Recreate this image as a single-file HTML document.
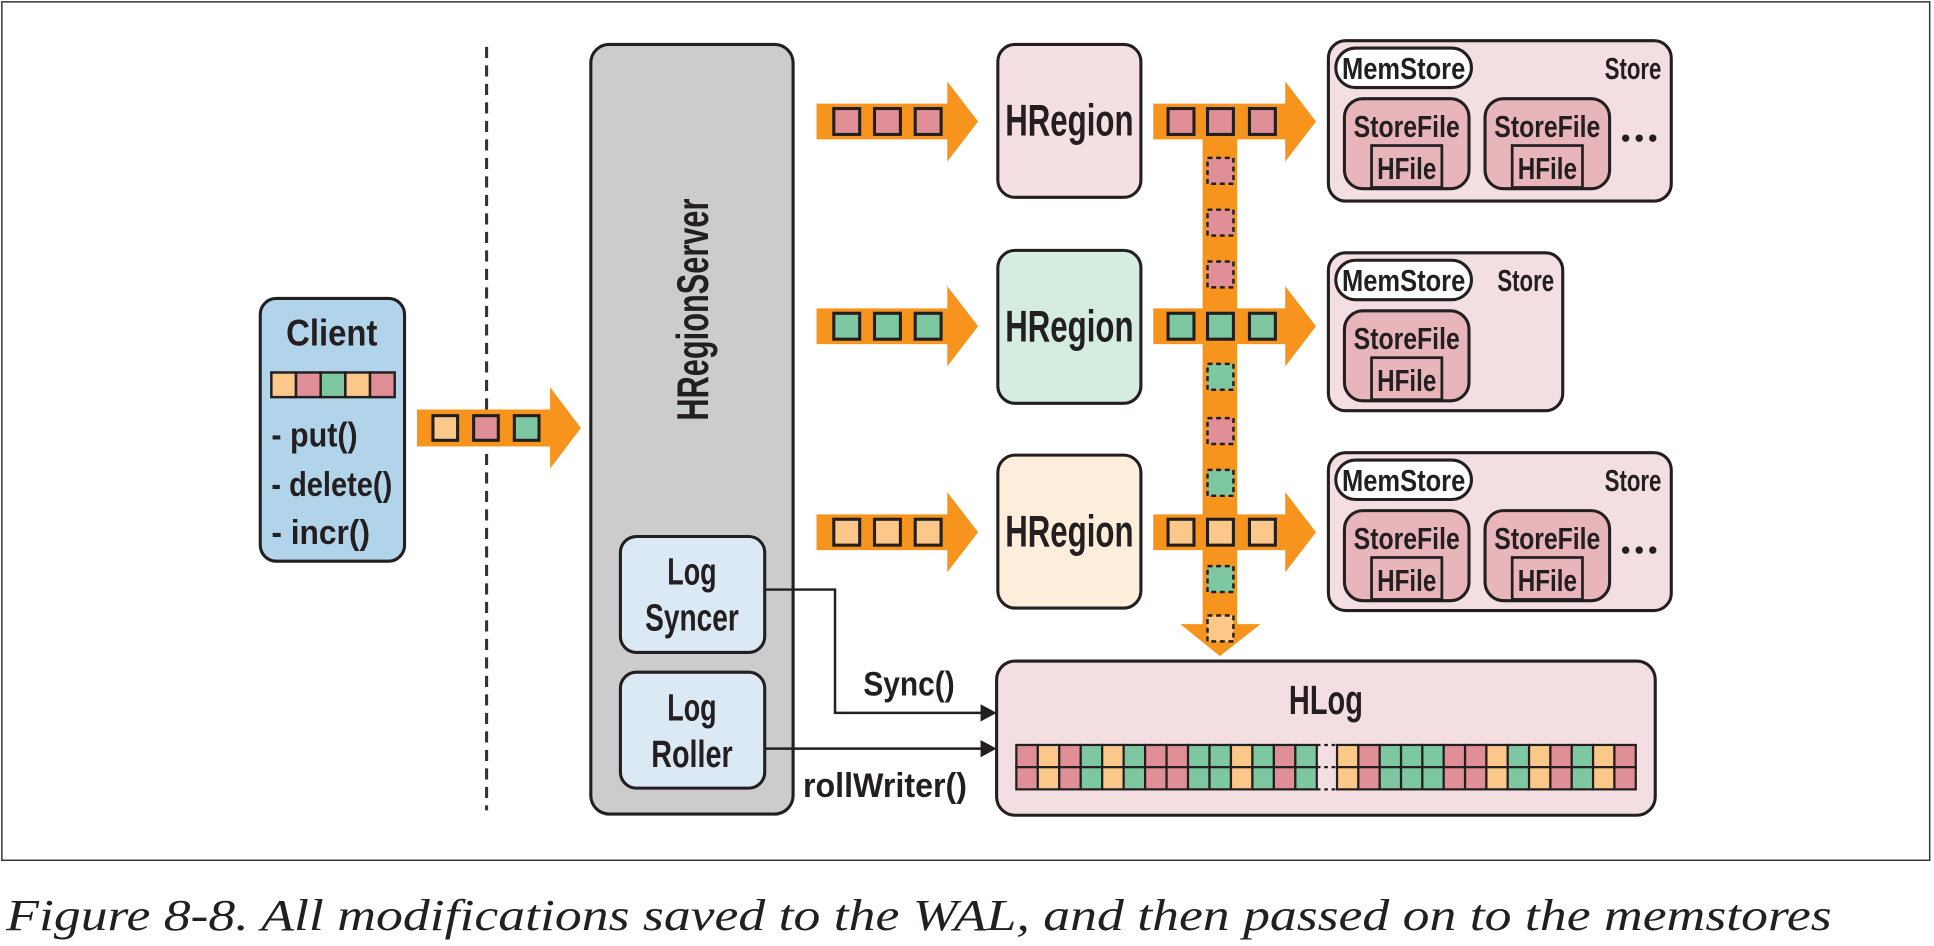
<!DOCTYPE html>
<html><head><meta charset="utf-8"><style>
html,body{margin:0;padding:0;background:#fff;}
svg{display:block;}
text{font-family:"Liberation Sans Narrow","Liberation Sans",sans-serif;fill:#231f20;font-weight:bold;}
text.cap{font-family:"Liberation Serif",serif;font-weight:normal;font-style:italic;}
</style></head><body>
<svg width="1934" height="946" viewBox="0 0 1568 767" preserveAspectRatio="none" xmlns="http://www.w3.org/2000/svg">
<rect x="1.5" y="1.5" width="1563" height="696" fill="#fff" stroke="#333" stroke-width="1.2"/>
<text class="cap" x="5" y="754" font-size="36" textLength="1480" lengthAdjust="spacingAndGlyphs">Figure 8-8. All modifications saved to the WAL, and then passed on to the memstores</text>

<line x1="394.5" y1="38" x2="394.5" y2="657" stroke="#333" stroke-width="2.5" stroke-dasharray="9,6"/>

<rect x="211" y="242" width="117" height="213" rx="13" fill="#b2d4eb" stroke="#231f20" stroke-width="2.5"/>
<text x="269" y="280" font-size="30" text-anchor="middle" textLength="74" lengthAdjust="spacingAndGlyphs">Client</text>
<g stroke="#231f20" stroke-width="2">
<rect x="220" y="302" width="20" height="20" fill="#fcc88a"/>
<rect x="240" y="302" width="20" height="20" fill="#df8f95"/>
<rect x="260" y="302" width="20" height="20" fill="#7dc8a0"/>
<rect x="280" y="302" width="20" height="20" fill="#fcc88a"/>
<rect x="300" y="302" width="20" height="20" fill="#df8f95"/>
</g>
<text x="220" y="362" font-size="28" textLength="70" lengthAdjust="spacingAndGlyphs">- put()</text>
<text x="220" y="402" font-size="28" textLength="98" lengthAdjust="spacingAndGlyphs">- delete()</text>
<text x="220" y="441" font-size="28" textLength="80" lengthAdjust="spacingAndGlyphs">- incr()</text>

<polygon points="338,332 446,332 446,314 471,347 446,380 446,362 338,362" fill="#f7941d"/>
<g stroke="#231f20" stroke-width="2.5">
<rect x="351" y="337" width="20" height="20" fill="#fcc88a"/>
<rect x="384" y="337" width="20" height="20" fill="#df8f95"/>
<rect x="417" y="337" width="20" height="20" fill="#7dc8a0"/>
</g>

<rect x="479" y="36" width="164" height="624" rx="15" fill="#cccccc" stroke="#231f20" stroke-width="2.5"/>
<text transform="translate(574,251) rotate(-90)" font-size="36" text-anchor="middle" textLength="180" lengthAdjust="spacingAndGlyphs">HRegionServer</text>
<rect x="503" y="435" width="117" height="94" rx="13" fill="#dbe9f4" stroke="#231f20" stroke-width="2.5"/>
<text x="561" y="474" font-size="31" text-anchor="middle" textLength="40" lengthAdjust="spacingAndGlyphs">Log</text>
<text x="561" y="511" font-size="31" text-anchor="middle" textLength="76" lengthAdjust="spacingAndGlyphs">Syncer</text>
<rect x="503" y="545" width="117" height="94" rx="13" fill="#dbe9f4" stroke="#231f20" stroke-width="2.5"/>
<text x="561" y="584" font-size="31" text-anchor="middle" textLength="40" lengthAdjust="spacingAndGlyphs">Log</text>
<text x="561" y="622" font-size="31" text-anchor="middle" textLength="66" lengthAdjust="spacingAndGlyphs">Roller</text>

<polyline points="620,478 677,478 677,578 796,578" fill="none" stroke="#231f20" stroke-width="2"/>
<polygon points="795,571 808,578 795,585" fill="#231f20"/>
<line x1="620" y1="607" x2="796" y2="607" stroke="#231f20" stroke-width="2"/>
<polygon points="795,600 808,607 795,614" fill="#231f20"/>
<text x="700" y="564" font-size="28" textLength="74" lengthAdjust="spacingAndGlyphs">Sync()</text>
<text x="651" y="646" font-size="28" textLength="133" lengthAdjust="spacingAndGlyphs">rollWriter()</text>

<g fill="#f7941d">
<polygon points="662,84 768,84 768,66 793,98.5 768,131 768,113 662,113"/>
<polygon points="662,250 768,250 768,232 793,264.5 768,297 768,279 662,279"/>
<polygon points="662,417 768,417 768,399 793,431.5 768,464 768,446 662,446"/>
</g>
<g stroke="#231f20" stroke-width="2.5">
<rect x="676" y="88" width="21" height="21" fill="#df8f95"/><rect x="709" y="88" width="21" height="21" fill="#df8f95"/><rect x="742" y="88" width="21" height="21" fill="#df8f95"/>
<rect x="676" y="254" width="21" height="21" fill="#7dc8a0"/><rect x="709" y="254" width="21" height="21" fill="#7dc8a0"/><rect x="742" y="254" width="21" height="21" fill="#7dc8a0"/>
<rect x="676" y="421" width="21" height="21" fill="#fcc88a"/><rect x="709" y="421" width="21" height="21" fill="#fcc88a"/><rect x="742" y="421" width="21" height="21" fill="#fcc88a"/>
</g>

<rect x="809" y="36" width="116" height="124" rx="14" fill="#f4dfe1" stroke="#231f20" stroke-width="2.5"/>
<text x="867" y="110" font-size="36" text-anchor="middle" textLength="104" lengthAdjust="spacingAndGlyphs">HRegion</text>
<rect x="809" y="203" width="116" height="124" rx="14" fill="#d5ece0" stroke="#231f20" stroke-width="2.5"/>
<text x="867" y="277" font-size="36" text-anchor="middle" textLength="104" lengthAdjust="spacingAndGlyphs">HRegion</text>
<rect x="809" y="369" width="116" height="124" rx="14" fill="#fdeedb" stroke="#231f20" stroke-width="2.5"/>
<text x="867" y="443" font-size="36" text-anchor="middle" textLength="104" lengthAdjust="spacingAndGlyphs">HRegion</text>

<g fill="#f7941d">
<polygon points="935,84 1042,84 1042,66 1067,98.5 1042,131 1042,113 935,113"/>
<polygon points="935,250 1042,250 1042,232 1067,264.5 1042,297 1042,279 935,279"/>
<polygon points="935,417 1042,417 1042,399 1067,431.5 1042,464 1042,446 935,446"/>
<polygon points="975,98 1003,98 1003,506 1022,506 989,532 957,506 975,506"/>
</g>
<g stroke="#231f20" stroke-width="2.5">
<rect x="947" y="88" width="21" height="21" fill="#df8f95"/><rect x="979" y="88" width="21" height="21" fill="#df8f95"/><rect x="1013" y="88" width="21" height="21" fill="#df8f95"/>
<rect x="947" y="254" width="21" height="21" fill="#7dc8a0"/><rect x="979" y="254" width="21" height="21" fill="#7dc8a0"/><rect x="1013" y="254" width="21" height="21" fill="#7dc8a0"/>
<rect x="947" y="421" width="21" height="21" fill="#fcc88a"/><rect x="979" y="421" width="21" height="21" fill="#fcc88a"/><rect x="1013" y="421" width="21" height="21" fill="#fcc88a"/>
</g>
<g stroke="#231f20" stroke-width="2" stroke-dasharray="4,3">
<rect x="979" y="128" width="21" height="21" fill="#df8f95"/>
<rect x="979" y="170" width="21" height="21" fill="#df8f95"/>
<rect x="979" y="212" width="21" height="21" fill="#df8f95"/>
<rect x="979" y="295" width="21" height="21" fill="#7dc8a0"/>
<rect x="979" y="339" width="21" height="21" fill="#df8f95"/>
<rect x="979" y="381" width="21" height="21" fill="#7dc8a0"/>
<rect x="979" y="459" width="21" height="21" fill="#7dc8a0"/>
<rect x="979" y="499" width="21" height="21" fill="#fcc88a"/>
</g>

<g transform="translate(1077,33)">
<rect x="0" y="0" width="278" height="130" rx="14" fill="#f3dfe1" stroke="#231f20" stroke-width="2.5"/>
<rect x="6" y="6" width="110" height="32" rx="16" fill="#fff" stroke="#231f20" stroke-width="2.5"/>
<text x="61" y="31" font-size="25" text-anchor="middle" textLength="100" lengthAdjust="spacingAndGlyphs">MemStore</text>
<text x="270" y="31" font-size="25" text-anchor="end" textLength="46" lengthAdjust="spacingAndGlyphs">Store</text>
<rect x="13" y="47" width="101" height="73" rx="15" fill="#e8b6ba" stroke="#231f20" stroke-width="2.5"/>
<text x="63.5" y="78" font-size="25" text-anchor="middle" textLength="86" lengthAdjust="spacingAndGlyphs">StoreFile</text>
<rect x="35" y="85" width="57" height="34" fill="#e8b6ba" stroke="#231f20" stroke-width="2.2"/>
<text x="63.5" y="112" font-size="25" text-anchor="middle" textLength="48" lengthAdjust="spacingAndGlyphs">HFile</text>
<rect x="127" y="47" width="101" height="73" rx="15" fill="#e8b6ba" stroke="#231f20" stroke-width="2.5"/>
<text x="177.5" y="78" font-size="25" text-anchor="middle" textLength="86" lengthAdjust="spacingAndGlyphs">StoreFile</text>
<rect x="149" y="85" width="57" height="34" fill="#e8b6ba" stroke="#231f20" stroke-width="2.2"/>
<text x="177.5" y="112" font-size="25" text-anchor="middle" textLength="48" lengthAdjust="spacingAndGlyphs">HFile</text>
<circle cx="241" cy="79" r="3" fill="#231f20"/><circle cx="252" cy="79" r="3" fill="#231f20"/><circle cx="263" cy="79" r="3" fill="#231f20"/>
</g>
<g transform="translate(1077,205)">
<rect x="0" y="0" width="190" height="128" rx="14" fill="#f3dfe1" stroke="#231f20" stroke-width="2.5"/>
<rect x="6" y="6" width="110" height="32" rx="16" fill="#fff" stroke="#231f20" stroke-width="2.5"/>
<text x="61" y="31" font-size="25" text-anchor="middle" textLength="100" lengthAdjust="spacingAndGlyphs">MemStore</text>
<text x="183" y="31" font-size="25" text-anchor="end" textLength="46" lengthAdjust="spacingAndGlyphs">Store</text>
<rect x="13" y="47" width="101" height="73" rx="15" fill="#e8b6ba" stroke="#231f20" stroke-width="2.5"/>
<text x="63.5" y="78" font-size="25" text-anchor="middle" textLength="86" lengthAdjust="spacingAndGlyphs">StoreFile</text>
<rect x="35" y="85" width="57" height="34" fill="#e8b6ba" stroke="#231f20" stroke-width="2.2"/>
<text x="63.5" y="112" font-size="25" text-anchor="middle" textLength="48" lengthAdjust="spacingAndGlyphs">HFile</text>
</g>
<g transform="translate(1077,367)">
<rect x="0" y="0" width="278" height="128" rx="14" fill="#f3dfe1" stroke="#231f20" stroke-width="2.5"/>
<rect x="6" y="6" width="110" height="32" rx="16" fill="#fff" stroke="#231f20" stroke-width="2.5"/>
<text x="61" y="31" font-size="25" text-anchor="middle" textLength="100" lengthAdjust="spacingAndGlyphs">MemStore</text>
<text x="270" y="31" font-size="25" text-anchor="end" textLength="46" lengthAdjust="spacingAndGlyphs">Store</text>
<rect x="13" y="47" width="101" height="73" rx="15" fill="#e8b6ba" stroke="#231f20" stroke-width="2.5"/>
<text x="63.5" y="78" font-size="25" text-anchor="middle" textLength="86" lengthAdjust="spacingAndGlyphs">StoreFile</text>
<rect x="35" y="85" width="57" height="34" fill="#e8b6ba" stroke="#231f20" stroke-width="2.2"/>
<text x="63.5" y="112" font-size="25" text-anchor="middle" textLength="48" lengthAdjust="spacingAndGlyphs">HFile</text>
<rect x="127" y="47" width="101" height="73" rx="15" fill="#e8b6ba" stroke="#231f20" stroke-width="2.5"/>
<text x="177.5" y="78" font-size="25" text-anchor="middle" textLength="86" lengthAdjust="spacingAndGlyphs">StoreFile</text>
<rect x="149" y="85" width="57" height="34" fill="#e8b6ba" stroke="#231f20" stroke-width="2.2"/>
<text x="177.5" y="112" font-size="25" text-anchor="middle" textLength="48" lengthAdjust="spacingAndGlyphs">HFile</text>
<circle cx="241" cy="79" r="3" fill="#231f20"/><circle cx="252" cy="79" r="3" fill="#231f20"/><circle cx="263" cy="79" r="3" fill="#231f20"/>
</g>

<rect x="808" y="536" width="534" height="125" rx="15" fill="#f3dfe1" stroke="#231f20" stroke-width="2.5"/>
<text x="1075" y="579" font-size="33" text-anchor="middle" textLength="60" lengthAdjust="spacingAndGlyphs">HLog</text>
<g stroke="#231f20" stroke-width="1.8">
<rect x="824.0" y="604" width="17.4" height="18" fill="#df8f95"/><rect x="824.0" y="622" width="17.4" height="18" fill="#df8f95"/>
<rect x="841.4" y="604" width="17.4" height="18" fill="#fcc88a"/><rect x="841.4" y="622" width="17.4" height="18" fill="#fcc88a"/>
<rect x="858.8" y="604" width="17.4" height="18" fill="#df8f95"/><rect x="858.8" y="622" width="17.4" height="18" fill="#df8f95"/>
<rect x="876.2" y="604" width="17.4" height="18" fill="#7dc8a0"/><rect x="876.2" y="622" width="17.4" height="18" fill="#7dc8a0"/>
<rect x="893.6" y="604" width="17.4" height="18" fill="#fcc88a"/><rect x="893.6" y="622" width="17.4" height="18" fill="#fcc88a"/>
<rect x="911.0" y="604" width="17.4" height="18" fill="#7dc8a0"/><rect x="911.0" y="622" width="17.4" height="18" fill="#7dc8a0"/>
<rect x="928.4" y="604" width="17.4" height="18" fill="#df8f95"/><rect x="928.4" y="622" width="17.4" height="18" fill="#df8f95"/>
<rect x="945.8" y="604" width="17.4" height="18" fill="#df8f95"/><rect x="945.8" y="622" width="17.4" height="18" fill="#df8f95"/>
<rect x="963.2" y="604" width="17.4" height="18" fill="#7dc8a0"/><rect x="963.2" y="622" width="17.4" height="18" fill="#7dc8a0"/>
<rect x="980.6" y="604" width="17.4" height="18" fill="#7dc8a0"/><rect x="980.6" y="622" width="17.4" height="18" fill="#7dc8a0"/>
<rect x="998.0" y="604" width="17.4" height="18" fill="#fcc88a"/><rect x="998.0" y="622" width="17.4" height="18" fill="#fcc88a"/>
<rect x="1015.4" y="604" width="17.4" height="18" fill="#7dc8a0"/><rect x="1015.4" y="622" width="17.4" height="18" fill="#7dc8a0"/>
<rect x="1032.8" y="604" width="17.4" height="18" fill="#df8f95"/><rect x="1032.8" y="622" width="17.4" height="18" fill="#df8f95"/>
<rect x="1050.2" y="604" width="17.4" height="18" fill="#7dc8a0"/><rect x="1050.2" y="622" width="17.4" height="18" fill="#7dc8a0"/>
<rect x="1084.0" y="604" width="17.3" height="18" fill="#fcc88a"/><rect x="1084.0" y="622" width="17.3" height="18" fill="#fcc88a"/>
<rect x="1101.3" y="604" width="17.3" height="18" fill="#df8f95"/><rect x="1101.3" y="622" width="17.3" height="18" fill="#df8f95"/>
<rect x="1118.6" y="604" width="17.3" height="18" fill="#7dc8a0"/><rect x="1118.6" y="622" width="17.3" height="18" fill="#7dc8a0"/>
<rect x="1135.9" y="604" width="17.3" height="18" fill="#7dc8a0"/><rect x="1135.9" y="622" width="17.3" height="18" fill="#7dc8a0"/>
<rect x="1153.2" y="604" width="17.3" height="18" fill="#7dc8a0"/><rect x="1153.2" y="622" width="17.3" height="18" fill="#7dc8a0"/>
<rect x="1170.5" y="604" width="17.3" height="18" fill="#df8f95"/><rect x="1170.5" y="622" width="17.3" height="18" fill="#df8f95"/>
<rect x="1187.8" y="604" width="17.3" height="18" fill="#df8f95"/><rect x="1187.8" y="622" width="17.3" height="18" fill="#df8f95"/>
<rect x="1205.1" y="604" width="17.3" height="18" fill="#fcc88a"/><rect x="1205.1" y="622" width="17.3" height="18" fill="#fcc88a"/>
<rect x="1222.4" y="604" width="17.3" height="18" fill="#7dc8a0"/><rect x="1222.4" y="622" width="17.3" height="18" fill="#7dc8a0"/>
<rect x="1239.7" y="604" width="17.3" height="18" fill="#fcc88a"/><rect x="1239.7" y="622" width="17.3" height="18" fill="#fcc88a"/>
<rect x="1257.0" y="604" width="17.3" height="18" fill="#df8f95"/><rect x="1257.0" y="622" width="17.3" height="18" fill="#df8f95"/>
<rect x="1274.3" y="604" width="17.3" height="18" fill="#7dc8a0"/><rect x="1274.3" y="622" width="17.3" height="18" fill="#7dc8a0"/>
<rect x="1291.6" y="604" width="17.3" height="18" fill="#fcc88a"/><rect x="1291.6" y="622" width="17.3" height="18" fill="#fcc88a"/>
<rect x="1308.9" y="604" width="17.3" height="18" fill="#df8f95"/><rect x="1308.9" y="622" width="17.3" height="18" fill="#df8f95"/>
</g>
<g stroke="#231f20" stroke-width="1.8" stroke-dasharray="3,3">
<line x1="1067.6" y1="604" x2="1084" y2="604"/><line x1="1067.6" y1="622" x2="1084" y2="622"/><line x1="1067.6" y1="640" x2="1084" y2="640"/>
</g>
</svg>
</body></html>
